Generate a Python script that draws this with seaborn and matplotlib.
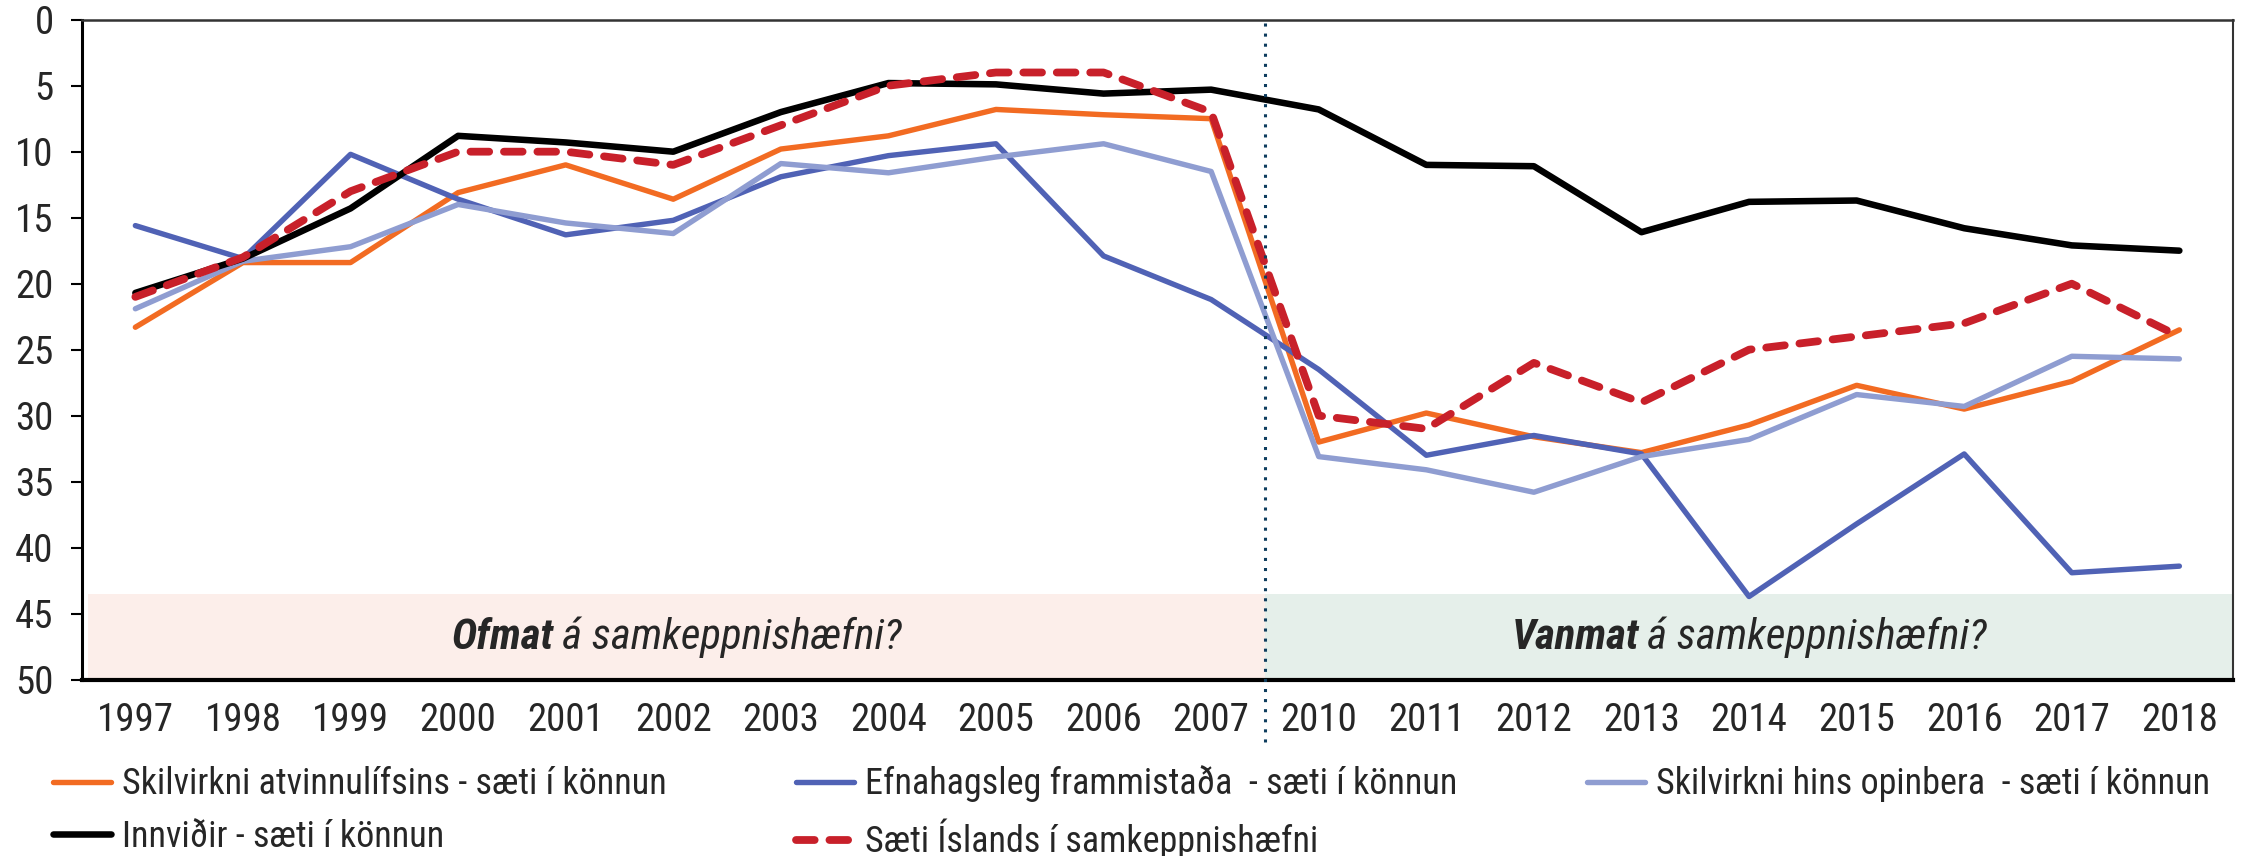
import numpy as np
import pandas as pd
import matplotlib
matplotlib.use("Agg")
import matplotlib.pyplot as plt
import seaborn as sns
from matplotlib import font_manager
from matplotlib.offsetbox import TextArea, HPacker, AnnotationBbox

years = ["1997", "1998", "1999", "2000", "2001", "2002", "2003", "2004", "2005",
         "2006", "2007", "2010", "2011", "2012", "2013", "2014", "2015", "2016",
         "2017", "2018"]

atvinnulif = [23.3, 18.4, 18.4, 13.1, 11.0, 13.6, 9.8, 8.8, 6.8, 7.2, 7.5,
              32.0, 29.8, 31.6, 32.8, 30.7, 27.7, 29.5, 27.4, 23.5]
efnahagur = [15.6, 18.1, 10.2, 13.6, 16.3, 15.2, 11.9, 10.3, 9.4, 17.9, 21.2,
             26.5, 33.0, 31.5, 32.9, 43.7, 38.2, 32.9, 41.9, 41.4]
opinbera = [21.9, 18.3, 17.2, 14.0, 15.4, 16.2, 10.9, 11.6, 10.4, 9.4, 11.5,
            33.1, 34.1, 35.8, 33.1, 31.8, 28.4, 29.3, 25.5, 25.7]
innvidir = [20.7, 18.1, 14.3, 8.8, 9.3, 10.0, 7.0, 4.8, 4.9, 5.6, 5.3,
            6.8, 11.0, 11.1, 16.1, 13.8, 13.7, 15.8, 17.1, 17.5]
saeti = [21, 18, 13, 10, 10, 11, 8, 5, 4, 4, 7,
         30, 31, 26, 29, 25, 24, 23, 20, 24]

lab_atv = "Skilvirkni atvinnulífsins - sæti í könnun"
lab_efn = "Efnahagsleg frammistaða  - sæti í könnun"
lab_opi = "Skilvirkni hins opinbera  - sæti í könnun"
lab_inn = "Innviðir - sæti í könnun"
lab_sae = "Sæti Íslands í samkeppnishæfni"

split_year = "2007"
band_top = 43.5

# pick a condensed face if one is installed
installed = {f.name for f in font_manager.fontManager.ttflist}
condensed = [n for n in ["Roboto Condensed", "Liberation Sans Narrow"] if n in installed]
narrow = bool(condensed)

sns.set_theme(style="white")
plt.rcParams["font.family"] = condensed + ["DejaVu Sans"]
tick_fs = 28 if narrow else 21
leg_fs = 26 if narrow else 20
band_fs = 31 if narrow else 24

fig = plt.figure(figsize=(22.41, 8.56), dpi=100)
ax = fig.add_axes([0.0364, 0.206, 0.9601, 0.771])

x = np.arange(len(years))
split = years.index(split_year) + 0.5

# shaded bands at bottom
ax.fill_between([-0.44, split], band_top, 50, color="#FCEEEA", lw=0, zorder=0)
ax.fill_between([split, len(years) - 0.5], band_top, 50, color="#E5EFEA", lw=0, zorder=0)

series = [
    (atvinnulif, lab_atv, "#F26B22", 3.9),
    (efnahagur, lab_efn, "#5062B5", 3.9),
    (opinbera, lab_opi, "#8F9DD1", 3.9),
    (innvidir, lab_inn, "black", 4.7),
]
for vals, lab, col, lw in series:
    sns.lineplot(x=x, y=vals, ax=ax, color=col, lw=lw, label=lab,
                 solid_capstyle="round", zorder=3)
sns.lineplot(x=x, y=saeti, ax=ax, color="#C8202A", lw=5.6, label=lab_sae, zorder=4)
red = ax.lines[-1]
red.set_dashes((2.4, 1.9))
red.set_dash_capstyle("round")

# period divider
ax.plot([split, split], [0.995, -0.095], transform=ax.get_xaxis_transform(),
        color="#0E3D5E", lw=2.2, ls=(0, (1, 2.3)), clip_on=False, zorder=5)

ax.set_xlim(-0.5, len(years) - 0.5)
ax.set_ylim(50, 0)
ax.set_yticks(range(0, 51, 5))
ax.set_xticks(x)
ax.set_xticklabels(years)
ax.tick_params(axis="x", length=0, pad=16, labelsize=tick_fs)
ax.tick_params(axis="y", left=True, length=8, width=1.5, pad=12, labelsize=tick_fs,
               color="black")

for side in ["left", "bottom"]:
    ax.spines[side].set_color("black")
ax.spines["left"].set_linewidth(2.2)
ax.spines["bottom"].set_linewidth(3)
ax.spines["top"].set_color("#333333")
ax.spines["top"].set_linewidth(1.8)
ax.spines["right"].set_color("#333333")
ax.spines["right"].set_linewidth(1.5)


def band_label(xc, bold, rest):
    box = HPacker(children=[
        TextArea(bold, textprops=dict(fontsize=band_fs, fontweight="bold", fontstyle="italic")),
        TextArea(rest, textprops=dict(fontsize=band_fs, fontstyle="italic")),
    ], align="baseline", pad=0, sep=6)
    ab = AnnotationBbox(box, (xc, (band_top + 50) / 2), frameon=False,
                        box_alignment=(0.5, 0.5), zorder=6)
    ax.add_artist(ab)


band_label((-0.44 + split) / 2, "Ofmat", "á samkeppnishæfni?")
band_label((split + len(years) - 0.5) / 2, "Vanmat", "á samkeppnishæfni?")

# legend in row-major order
h, l = ax.get_legend_handles_labels()
lookup = dict(zip(l, h))
order = [lab_atv, lab_inn, lab_efn, lab_sae, lab_opi]
ax.legend([lookup[k] for k in order], order, ncol=3, loc="upper left",
          bbox_to_anchor=(-0.0133, -0.13), frameon=False, fontsize=leg_fs,
          handlelength=1.6, handletextpad=0.3, columnspacing=3.6,
          labelspacing=0.45, borderaxespad=0, borderpad=0)

fig.savefig("out.png", dpi=100)
